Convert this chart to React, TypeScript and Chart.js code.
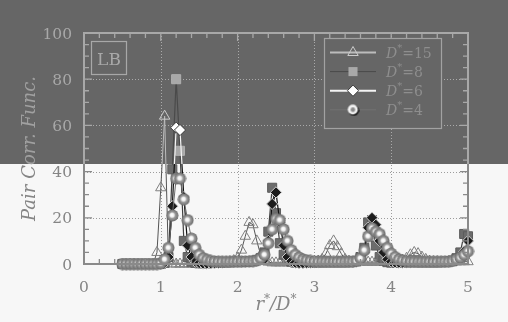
import React, { useEffect, useRef } from "react";
import { Chart, registerables } from "chart.js";
Chart.register(...registerables);

// ---------- data ----------
const rValues = [
  0.5, 0.55, 0.6, 0.65, 0.7, 0.75, 0.8, 0.85, 0.9, 0.95,
  1, 1.05, 1.1, 1.15, 1.2, 1.25, 1.3, 1.35, 1.4, 1.45,
  1.5, 1.55, 1.6, 1.65, 1.7, 1.75, 1.8, 1.85, 1.9, 1.95,
  2, 2.05, 2.1, 2.15, 2.2, 2.25, 2.3, 2.35, 2.4, 2.45,
  2.5, 2.55, 2.6, 2.65, 2.7, 2.75, 2.8, 2.85, 2.9, 2.95,
  3, 3.05, 3.1, 3.15, 3.2, 3.25, 3.3, 3.35, 3.4, 3.45,
  3.5, 3.55, 3.6, 3.65, 3.7, 3.75, 3.8, 3.85, 3.9, 3.95,
  4, 4.05, 4.1, 4.15, 4.2, 4.25, 4.3, 4.35, 4.4, 4.45,
  4.5, 4.55, 4.6, 4.65, 4.7, 4.75, 4.8, 4.85, 4.9, 4.95,
  5,
];

const g15 = [
  0, 0, 0, 0, 0, 0, 0, 0, 0, 5,
  33, 64, 1, 0, 0, 0, 0, 0, 0, 0.1,
  0.2, 0.3, 0.4, 0.5, 0.6, 0.6, 0.7, 0.8, 1.0, 1.5,
  2.5, 6, 12, 18, 17, 10, 4, 1.5, 0.8, 0.5,
  0.5, 0.5, 0.5, 0.5, 0.6, 0.6, 0.7, 0.8, 0.8, 0.9,
  1.0, 1.3, 2, 4.5, 8, 10, 7.5, 4.5, 2, 1.2,
  0.9, 0.8, 0.8, 0.8, 0.8, 0.8, 0.8, 0.8, 0.9, 0.9,
  1.0, 1.0, 1.2, 1.6, 2.5, 4, 5, 4.5, 3, 2,
  1.2, 1.0, 1.0, 0.9, 0.9, 0.9, 0.9, 0.9, 1.0, 1.0,
  1.0,
];

const g8 = [
  0, 0, 0, 0, 0, 0, 0, 0, 0, 0,
  0, 0.5, 3, 41, 80, 49, 10, 3, 1, 0.5,
  0.3, 0.3, 0.3, 0.4, 0.5, 0.5, 0.6, 0.7, 0.8, 0.9,
  1.0, 1.0, 1.1, 1.2, 1.4, 1.8, 2.5, 5, 14, 33,
  22, 9, 4, 2, 1, 0.6, 0.5, 0.5, 0.5, 0.6,
  0.6, 0.7, 0.7, 0.8, 0.8, 0.8, 0.8, 0.8, 0.8, 0.8,
  0.9, 1.2, 3, 7, 18, 19, 8, 3, 1.5, 0.8,
  0.6, 0.6, 0.6, 0.7, 0.7, 0.8, 0.8, 0.8, 0.8, 0.8,
  0.8, 0.8, 0.8, 0.9, 1.0, 1.1, 1.5, 2.5, 5, 13,
  12,
];

const g6 = [
  0, 0, 0, 0, 0, 0, 0, 0, 0, 0,
  0, 0.5, 3, 25, 59, 58, 29, 8, 3, 1,
  0.4, 0.2, 0.2, 0.3, 0.4, 0.5, 0.6, 0.7, 0.8, 0.9,
  1.0, 1.0, 1.0, 1.1, 1.2, 1.4, 1.8, 2, 10, 26,
  31, 18, 8, 3, 1.2, 0.6, 0.4, 0.4, 0.5, 0.6,
  0.7, 0.7, 0.8, 0.8, 0.8, 0.8, 0.8, 0.8, 0.8, 0.8,
  0.8, 1.0, 1.5, 5, 15.7, 20, 17, 10, 5, 2,
  1, 0.7, 0.6, 0.6, 0.7, 0.7, 0.8, 0.8, 0.8, 0.8,
  0.8, 0.8, 0.8, 0.9, 0.9, 1.0, 1.2, 1.5, 3, 5.5,
  10,
];

const g4 = [
  0, 0, 0, 0, 0, 0, 0, 0, 0, 0,
  0.3, 2, 7, 21, 37, 37, 28, 19, 11, 7,
  4, 2.5, 1.8, 1.3, 1.1, 1.0, 0.9, 0.9, 0.9, 1.0,
  1.0, 1.0, 1.1, 1.1, 1.2, 1.5, 2.5, 4, 9, 15,
  19.5, 19, 15, 10, 6, 4, 2.8, 2, 1.6, 1.3,
  1.1, 1.0, 1.0, 0.9, 0.9, 0.9, 0.9, 0.9, 0.9, 1.0,
  1.0, 1.3, 2.5, 6, 12, 15.5, 14, 13, 10, 7,
  4.5, 3, 2, 1.5, 1.2, 1.0, 1.0, 0.9, 0.9, 0.9,
  0.9, 0.9, 0.9, 0.9, 1.0, 1.0, 1.3, 2, 2.8, 4,
  5.5,
];

const seriesD = ["15", "8", "6", "4"];
const xTicks = [0, 1, 2, 3, 4, 5];
const yTicks = [0, 20, 40, 60, 80, 100];
const yTitle = "Pair Corr. Func.";
const boxLabel = "LB";

// ---------- layout / styles ----------
const W = 508;
const H = 322;
const SPLIT = 164;
const SERIF = '"DejaVu Serif"';

type Palette = {
  bg: string;
  axis: string;
  grid: string;
  text: string;
  title: string;
  legendText: string;
  legendBorder: string;
  line: string[];
  lineW: number[];
  legendLineW: number[];
  fill: string[];
  border: string[];
  dark: boolean;
};

const light: Palette = {
  bg: "#f7f7f7",
  axis: "#8a8a8a",
  grid: "#9c9c9c",
  text: "#858585",
  title: "#858585",
  legendText: "#b4b4b4",
  legendBorder: "#a0a0a0",
  line: ["#555555", "#404040", "#111111", "#6a6a6a"],
  lineW: [1, 1.2, 1.2, 1],
  legendLineW: [2, 1, 2, 1],
  fill: ["rgba(0,0,0,0)", "#6c6c6c", "#1c1c1c", "#999999"],
  border: ["#808080", "#5c5c5c", "#cfcfcf", "#777777"],
  dark: false,
};

const dark: Palette = {
  bg: "#666666",
  axis: "#a8a8a8",
  grid: "#aaaaaa",
  text: "#a8a8a8",
  title: "#a0a0a0",
  legendText: "#8e8e8e",
  legendBorder: "#a2a2a2",
  line: ["#bcbcbc", "#4a4a4a", "#f4f4f4", "#727272"],
  lineW: [1, 1.2, 1.2, 1],
  legendLineW: [2, 1, 2, 1],
  fill: ["rgba(0,0,0,0)", "#a9a9a9", "#ffffff", "#dddddd"],
  border: ["#cccccc", "#b0b0b0", "#3a3a3a", "#222222"],
  dark: true,
};

function makeSphere(p: Palette): HTMLCanvasElement {
  const c = document.createElement("canvas");
  c.width = 13;
  c.height = 13;
  const g = c.getContext("2d")!;
  if (!p.dark) {
    const grad = g.createRadialGradient(6, 6, 0.3, 6.5, 6.5, 6.2);
    grad.addColorStop(0, "#ffffff");
    grad.addColorStop(0.28, "#eeeeee");
    grad.addColorStop(0.5, "#9c9c9c");
    grad.addColorStop(0.8, "#7c7c7c");
    grad.addColorStop(1, "#5e5e5e");
    g.fillStyle = grad;
    g.beginPath();
    g.arc(6.5, 6.5, 6, 0, Math.PI * 2);
    g.fill();
  } else {
    g.fillStyle = "#111111";
    g.beginPath();
    g.arc(7.2, 7.2, 5.3, 0, Math.PI * 2);
    g.fill();
    g.fillStyle = "#f2f2f2";
    g.beginPath();
    g.arc(6.3, 6.3, 5.0, 0, Math.PI * 2);
    g.fill();
    g.fillStyle = "#8a8a8a";
    g.beginPath();
    g.arc(6.4, 6.4, 2.3, 0, Math.PI * 2);
    g.fill();
  }
  return c;
}

type Part = { t: string; font: string; dy: number };

function drawParts(ctx: CanvasRenderingContext2D, parts: Part[], x: number, y: number, align: "left" | "center") {
  let total = 0;
  for (const pt of parts) {
    ctx.font = pt.font;
    total += ctx.measureText(pt.t).width;
  }
  let cx = align === "center" ? x - total / 2 : x;
  ctx.textAlign = "left";
  ctx.textBaseline = "alphabetic";
  for (const pt of parts) {
    ctx.font = pt.font;
    ctx.fillText(pt.t, cx, y + pt.dy);
    cx += ctx.measureText(pt.t).width;
  }
}

function makeConfig(p: Palette): any {
  const sphere = makeSphere(p);
  const sets = [g15, g8, g6, g4];
  const styles: any[] = ["triangle", "rect", "rectRot", sphere];
  const radii = [6, 6.4, 5.6, 6];
  const orders = [3, 2, 1, 0];

  const datasets = sets.map((vals, i) => ({
    label: "D*=" + seriesD[i],
    data: rValues.map((r, k) => ({ x: r, y: vals[k] })),
    borderColor: p.line[i],
    borderWidth: p.lineW[i],
    pointStyle: styles[i],
    pointRadius: radii[i],
    pointBackgroundColor: p.fill[i],
    pointBorderColor: p.border[i],
    pointBorderWidth: 1,
    tension: 0,
    fill: false,
    clip: false as any,
    order: orders[i],
  }));

  const drawMarker = (ctx: CanvasRenderingContext2D, i: number, x: number, y: number) => {
    ctx.save();
    ctx.lineWidth = 1;
    ctx.strokeStyle = p.border[i];
    ctx.fillStyle = p.fill[i];
    if (i === 0) {
      const r = radii[0];
      ctx.beginPath();
      ctx.moveTo(x, y - r);
      ctx.lineTo(x + r * 0.866, y + r * 0.5);
      ctx.lineTo(x - r * 0.866, y + r * 0.5);
      ctx.closePath();
      ctx.fill();
      ctx.stroke();
    } else if (i === 1) {
      const s = radii[1] * Math.SQRT1_2;
      ctx.fillRect(x - s, y - s, 2 * s, 2 * s);
    } else if (i === 2) {
      const r = radii[2];
      ctx.beginPath();
      ctx.moveTo(x, y - r);
      ctx.lineTo(x + r, y);
      ctx.lineTo(x, y + r);
      ctx.lineTo(x - r, y);
      ctx.closePath();
      ctx.fill();
      ctx.stroke();
    } else {
      ctx.drawImage(sphere, x - sphere.width / 2, y - sphere.height / 2);
    }
    ctx.restore();
  };

  const decor = {
    id: "decor",
    beforeDraw(chart: any) {
      const ctx = chart.ctx as CanvasRenderingContext2D;
      ctx.save();
      ctx.fillStyle = p.bg;
      ctx.fillRect(0, 0, chart.width, chart.height);
      ctx.restore();
    },
    beforeDatasetsDraw(chart: any) {
      const ctx = chart.ctx as CanvasRenderingContext2D;
      const { left, right, top, bottom } = chart.chartArea;
      const xs = chart.scales.x;
      const ys = chart.scales.y;
      ctx.save();
      ctx.strokeStyle = p.grid;
      ctx.lineWidth = 1;
      ctx.setLineDash([1, 2]);
      for (const v of xTicks.slice(1, -1)) {
        const px = Math.round(xs.getPixelForValue(v)) + 0.5;
        ctx.beginPath();
        ctx.moveTo(px, top);
        ctx.lineTo(px, bottom);
        ctx.stroke();
      }
      for (const v of yTicks.slice(1, -1)) {
        const py = Math.round(ys.getPixelForValue(v)) + 0.5;
        ctx.beginPath();
        ctx.moveTo(left, py);
        ctx.lineTo(right, py);
        ctx.stroke();
      }
      ctx.restore();
    },
    afterDatasetsDraw(chart: any) {
      const ctx = chart.ctx as CanvasRenderingContext2D;
      const { left, right, top, bottom } = chart.chartArea;
      const xs = chart.scales.x;
      const ys = chart.scales.y;
      ctx.save();
      // frame
      ctx.strokeStyle = p.axis;
      ctx.lineWidth = 2;
      ctx.strokeRect(left, top, right - left, bottom - top);
      // ticks (inward)
      ctx.lineWidth = 1.3;
      const x0 = xTicks[0];
      const x1 = xTicks[xTicks.length - 1];
      for (let k = 0; k <= (x1 - x0) * 5; k++) {
        const v = x0 + k * 0.2;
        const major = k % 5 === 0;
        const len = major ? 8 : 5;
        const px = xs.getPixelForValue(v);
        ctx.beginPath();
        ctx.moveTo(px, bottom);
        ctx.lineTo(px, bottom - len);
        ctx.moveTo(px, top);
        ctx.lineTo(px, top + len);
        ctx.stroke();
      }
      const y0 = yTicks[0];
      const y1 = yTicks[yTicks.length - 1];
      for (let v = y0; v <= y1; v += 5) {
        const major = v % 20 === 0;
        const len = major ? 8 : 5;
        const py = ys.getPixelForValue(v);
        ctx.beginPath();
        ctx.moveTo(left, py);
        ctx.lineTo(left + len, py);
        ctx.moveTo(right, py);
        ctx.lineTo(right - len, py);
        ctx.stroke();
      }
      // tick labels
      ctx.fillStyle = p.text;
      ctx.font = `15.5px ${SERIF}`;
      ctx.textBaseline = "alphabetic";
      ctx.textAlign = "right";
      for (const v of yTicks) {
        ctx.fillText(String(v), left - 12, ys.getPixelForValue(v) + 5.5);
      }
      ctx.textAlign = "center";
      for (const v of xTicks) {
        ctx.fillText(String(v), xs.getPixelForValue(v), bottom + 28);
      }
      // axis titles
      ctx.fillStyle = p.title;
      ctx.save();
      ctx.translate(35, (top + bottom) / 2);
      ctx.rotate(-Math.PI / 2);
      ctx.font = `italic 18px ${SERIF}`;
      ctx.textAlign = "center";
      ctx.fillText(yTitle, 0, 0);
      ctx.restore();
      drawParts(
        ctx,
        [
          { t: "r", font: `italic 18px ${SERIF}`, dy: 0 },
          { t: "*", font: `12px ${SERIF}`, dy: -7 },
          { t: "/D", font: `italic 18px ${SERIF}`, dy: 0 },
          { t: "*", font: `12px ${SERIF}`, dy: -7 },
        ],
        (left + right) / 2,
        bottom + 46,
        "center"
      );
      // LB box
      ctx.fillStyle = p.bg;
      ctx.fillRect(91, 41, 36, 34);
      ctx.strokeStyle = p.axis;
      ctx.lineWidth = 1.2;
      ctx.strokeRect(91.5, 41.5, 35, 33);
      ctx.fillStyle = p.text;
      ctx.font = `17px ${SERIF}`;
      ctx.textAlign = "center";
      ctx.fillText(boxLabel, 109, 64.5);
      // legend
      const lx = 324, ly = 38, lw = 117, lh = 90;
      ctx.fillStyle = p.bg;
      ctx.fillRect(lx, ly, lw, lh);
      ctx.strokeStyle = p.legendBorder;
      ctx.lineWidth = 1.2;
      ctx.strokeRect(lx + 0.5, ly + 0.5, lw, lh);
      seriesD.forEach((d, i) => {
        const cy = 52.5 + i * 19.1;
        ctx.strokeStyle = p.line[i];
        ctx.lineWidth = p.legendLineW[i];
        ctx.beginPath();
        ctx.moveTo(330, cy);
        ctx.lineTo(376, cy);
        ctx.stroke();
        drawMarker(ctx, i, 353, cy);
        ctx.fillStyle = p.legendText;
        drawParts(
          ctx,
          [
            { t: "D", font: `italic 14px ${SERIF}`, dy: 0 },
            { t: "*", font: `10px ${SERIF}`, dy: -7 },
            { t: "=" + d, font: `14px ${SERIF}`, dy: 0 },
          ],
          386,
          cy + 5,
          "left"
        );
      });
      ctx.restore();
    },
  };

  return {
    type: "line",
    data: { datasets },
    options: {
      responsive: false,
      maintainAspectRatio: false,
      devicePixelRatio: 1,
      animation: false,
      events: [],
      layout: { padding: { left: 0, right: 40, top: 33, bottom: 0 } },
      plugins: { legend: { display: false }, tooltip: { enabled: false } },
      scales: {
        x: {
          type: "linear",
          min: xTicks[0],
          max: xTicks[xTicks.length - 1],
          ticks: { display: false },
          grid: { display: false },
          border: { display: false },
          afterFit: (s: any) => {
            s.height = 58;
          },
        },
        y: {
          type: "linear",
          min: yTicks[0],
          max: yTicks[yTicks.length - 1],
          ticks: { display: false },
          grid: { display: false },
          border: { display: false },
          afterFit: (s: any) => {
            s.width = 84;
          },
        },
      },
    },
    plugins: [decor],
  };
}

export default function App() {
  const topRef = useRef<HTMLCanvasElement>(null);
  const botRef = useRef<HTMLCanvasElement>(null);
  useEffect(() => {
    const c1 = new Chart(topRef.current!, makeConfig(dark));
    const c2 = new Chart(botRef.current!, makeConfig(light));
    return () => {
      c1.destroy();
      c2.destroy();
    };
  }, []);
  return (
    <div style={{ position: "fixed", left: 0, top: 0, width: W, height: H, overflow: "hidden" }}>
      <div style={{ position: "absolute", left: 0, top: 0, width: W, height: SPLIT, overflow: "hidden" }}>
        <canvas ref={topRef} width={W} height={H} style={{ display: "block", width: W, height: H }} />
      </div>
      <div style={{ position: "absolute", left: 0, top: SPLIT, width: W, height: H - SPLIT, overflow: "hidden" }}>
        <canvas
          ref={botRef}
          width={W}
          height={H}
          style={{ display: "block", position: "absolute", left: 0, top: -SPLIT, width: W, height: H }}
        />
      </div>
    </div>
  );
}
